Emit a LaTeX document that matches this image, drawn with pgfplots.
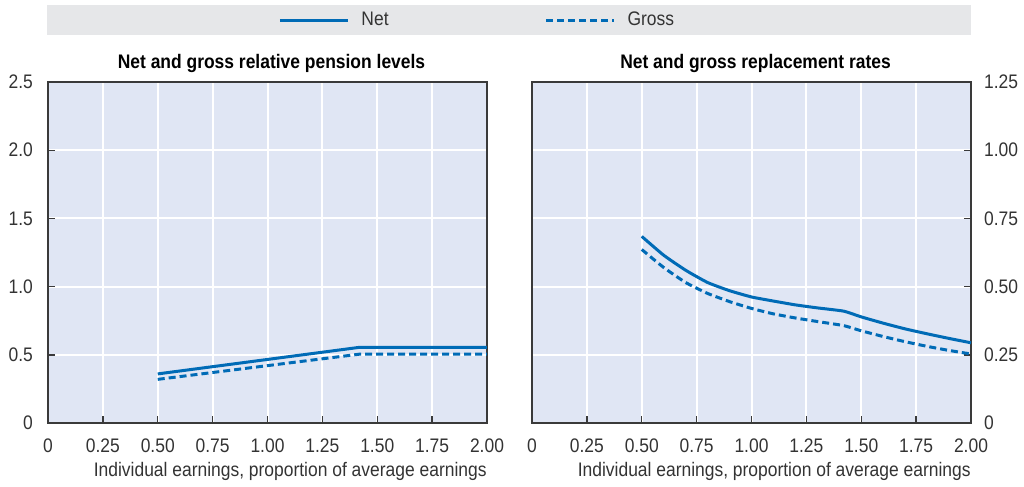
\documentclass[border=0pt]{standalone}
\usepackage{fontspec}
\setmainfont{Liberation Sans}[FakeStretch=0.89]
\usepackage{pgfplots}
\pgfplotsset{compat=1.18}
\definecolor{bg}{HTML}{E0E6F4}
\definecolor{legbg}{HTML}{E6E7E9}
\definecolor{oecd}{HTML}{006BB6}
\definecolor{txt}{HTML}{333333}
\definecolor{axc}{HTML}{3A3A3A}
\newcommand{\tfont}{\fontsize{9.8pt}{11.5pt}\selectfont}
\pgfplotsset{
  panel/.style={
    width=219.5pt, height=170.5pt, scale only axis,
    xmin=0, xmax=2,
    axis background/.style={fill=bg},
    axis line style={axc, line width=1pt},
    grid=major, major grid style={white, line width=1pt},
    xtick={0,0.25,0.5,0.75,1,1.25,1.5,1.75,2},
    xticklabels={0,0.25,0.50,0.75,1.00,1.25,1.50,1.75,2.00},
    xtick pos=bottom,
    tick align=inside, major tick length=3.5pt,
    tick style={axc, line width=0.7pt},
    /pgf/number format/assume math mode=true,
    ticklabel style={font=\tfont, text=txt},
    xticklabel style={yshift=-4.5pt},
    xlabel={Individual earnings, proportion of average earnings},
    xlabel style={font=\tfont, text=txt, at={(axis description cs:1,0)},
      anchor=base east, yshift=-26.5pt, inner sep=0pt},
    title style={font=\tfont\bfseries, text=black, yshift=-5pt, xshift=2pt},
    every axis plot/.append style={oecd, line width=1.5pt},
  },
  legend image code/.code={\draw[#1] (0pt,0pt) -- (34pt,0pt);},
}
\begin{document}
\begin{tikzpicture}
\path[use as bounding box] (0,0) rectangle (512pt,-243.5pt);
\fill[legbg] (23.5pt,-2.5pt) rectangle (485.5pt,-17.5pt);
\begin{axis}[panel,
  at={(24pt,-211.5pt)}, anchor=south west,
  ymin=0, ymax=2.5,
  ytick={0,0.5,1,1.5,2,2.5},
  yticklabels={0,0.5,1.0,1.5,2.0,2.5},
  ytick pos=left,
  yticklabel style={xshift=-4pt},
  title={Net and gross relative pension levels},
  legend style={at={(axis description cs:0.525,1.18)}, anchor=west,
    draw=none, fill=none, inner sep=0pt, outer sep=0pt,
    font=\tfont, text=txt, legend columns=2,
    /tikz/every odd column/.append style={column sep=4pt},
    /tikz/every even column/.append style={column sep=76pt}},
]
\addplot[solid] coordinates {(0.5,0.36) (1.42,0.555) (2.0,0.555)};
\addlegendentry{Net}
\addplot[dash pattern=on 3.5pt off 2pt] coordinates {(0.5,0.32) (1.42,0.505) (2.0,0.505)};
\addlegendentry{Gross}
\end{axis}
\begin{axis}[panel,
  at={(266pt,-211.5pt)}, anchor=south west,
  ymin=0, ymax=1.25,
  ytick={0,0.25,0.5,0.75,1,1.25},
  yticklabels={0,0.25,0.50,0.75,1.00,1.25},
  ytick pos=right, yticklabel pos=right,
  yticklabel style={xshift=3pt},
  title={Net and gross replacement rates},
]
\addplot[solid, smooth, tension=0.3] coordinates {
(0.5,0.684) (0.6,0.615) (0.7,0.56) (0.8,0.515) (0.9,0.485) (1.0,0.462)
(1.1,0.447) (1.2,0.433) (1.3,0.422) (1.42,0.41) (1.5,0.389) (1.6,0.366)
(1.7,0.345) (1.8,0.327) (1.9,0.31) (2.0,0.294)};
\addplot[dash pattern=on 3.5pt off 2pt, smooth, tension=0.3] coordinates {
(0.5,0.636) (0.6,0.57) (0.7,0.515) (0.8,0.475) (0.9,0.445) (1.0,0.42)
(1.1,0.4) (1.2,0.385) (1.3,0.372) (1.42,0.357) (1.5,0.338) (1.6,0.317)
(1.7,0.298) (1.8,0.281) (1.9,0.266) (2.0,0.253)};
\end{axis}
\end{tikzpicture}
\end{document}
